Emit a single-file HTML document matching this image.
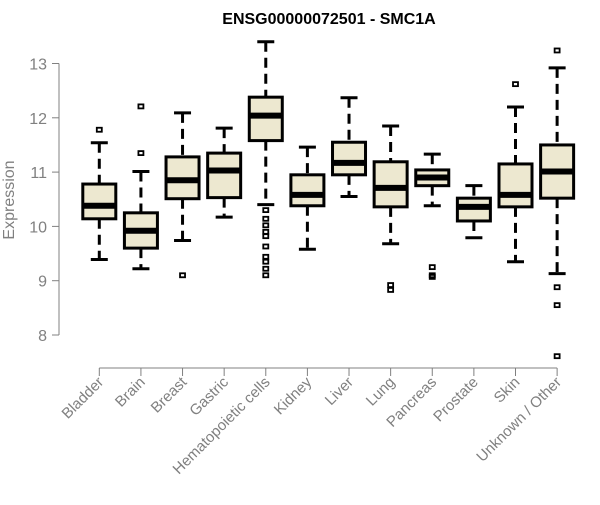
<!DOCTYPE html>
<html><head><meta charset="utf-8"><style>
body{margin:0;background:#fff}
svg text{font-family:"Liberation Sans",Arial,sans-serif}
</style></head><body>
<svg id="chart" width="600" height="500" xmlns="http://www.w3.org/2000/svg">
<text x="329" y="24" text-anchor="middle" font-size="16" font-weight="bold">ENSG00000072501 - SMC1A</text>
<text transform="translate(14,200) rotate(-90)" text-anchor="middle" font-size="16" fill="#808080">Expression</text>
<g id="g"></g>
</svg>
<script>
const categories=["Bladder","Brain","Breast","Gastric","Hematopoietic cells","Kidney","Liver","Lung","Pancreas","Prostate","Skin","Unknown / Other"];
const whiskerLow=[9.39,9.22,9.74,10.17,10.40,9.58,10.55,9.68,10.38,9.79,9.35,9.13];
const q1=[10.14,9.60,10.51,10.53,11.58,10.38,10.95,10.36,10.75,10.10,10.36,10.52];
const medians=[10.38,9.92,10.85,11.03,12.04,10.58,11.17,10.71,10.90,10.36,10.58,11.01];
const q3=[10.78,10.25,11.28,11.35,12.38,10.95,11.55,11.19,11.04,10.52,11.15,11.50];
const whiskerHigh=[11.54,11.01,12.09,11.81,13.40,11.46,12.37,11.85,11.33,10.75,12.20,12.92];
const outliers=[[11.78],[12.21,11.35],[9.10],[],[10.30,10.14,10.02,9.90,9.82,9.63,9.44,9.35,9.22,9.10],[],[],[8.92,8.83],[9.25,9.10,9.07],[],[12.62],[13.24,8.88,8.55,7.61]];
const yTicks=[8,9,10,11,12,13];
const NS="http://www.w3.org/2000/svg";
const g=document.getElementById('g');
const y=v=>335-(v-8)*54.3;
const x=i=>99.3+i*41.62;
function mk(t,a){const e=document.createElementNS(NS,t);for(const k in a)e.setAttribute(k,a[k]);g.appendChild(e);return e;}
let e=mk('line',{x1:59,x2:59,y1:y(13),y2:y(8),stroke:'#808080','stroke-width':1});


yTicks.forEach(v=>{
 let t=mk('line',{x1:52,x2:59,y1:y(v),y2:y(v),stroke:'#808080'});
 
 
 let l=mk('text',{x:47,y:y(v)+6,'text-anchor':'end','font-size':16,fill:'#808080'});
 l.textContent=v;
 
 
});
e=mk('line',{x1:x(0),x2:x(11),y1:368,y2:368,stroke:'#808080'});


categories.forEach((c,i)=>{
 const cx=x(i),w=16.5;
 let t=mk('line',{x1:cx,x2:cx,y1:368,y2:376,stroke:'#808080'});
 
 
 let l=mk('text',{x:0,y:0,'text-anchor':'end','font-size':15,fill:'#808080',transform:`translate(${cx+5},${383}) rotate(-45)`});
 l.textContent=c;
 
 
 let wl=mk('line',{x1:cx,x2:cx,y1:y(whiskerHigh[i]),y2:y(q3[i]),stroke:'#000','stroke-width':3,'stroke-dasharray':'10,6'});
 
 
 let wl2=mk('line',{x1:cx,x2:cx,y1:y(q1[i]),y2:y(whiskerLow[i]),stroke:'#000','stroke-width':3,'stroke-dasharray':'10,6'});
 
 
 let c1=mk('line',{x1:cx-8.5,x2:cx+8.5,y1:y(whiskerHigh[i]),y2:y(whiskerHigh[i]),stroke:'#000','stroke-width':3});
 
 
 let c2=mk('line',{x1:cx-8.5,x2:cx+8.5,y1:y(whiskerLow[i]),y2:y(whiskerLow[i]),stroke:'#000','stroke-width':3});
 
 
 let b=mk('rect',{x:cx-w,y:y(q3[i]),width:2*w,height:y(q1[i])-y(q3[i]),fill:'#ede8d0',stroke:'#000','stroke-width':3});
 
 
 let m=mk('line',{x1:cx-w,x2:cx+w,y1:y(medians[i]),y2:y(medians[i]),stroke:'#000','stroke-width':6});
 
 
 outliers[i].forEach(v=>{
  let o=mk('rect',{x:cx-2.5,y:y(v)-2,width:5,height:4,fill:'none',stroke:'#000','stroke-width':1.8});
  
  
 });
});
</script>
</body></html>
